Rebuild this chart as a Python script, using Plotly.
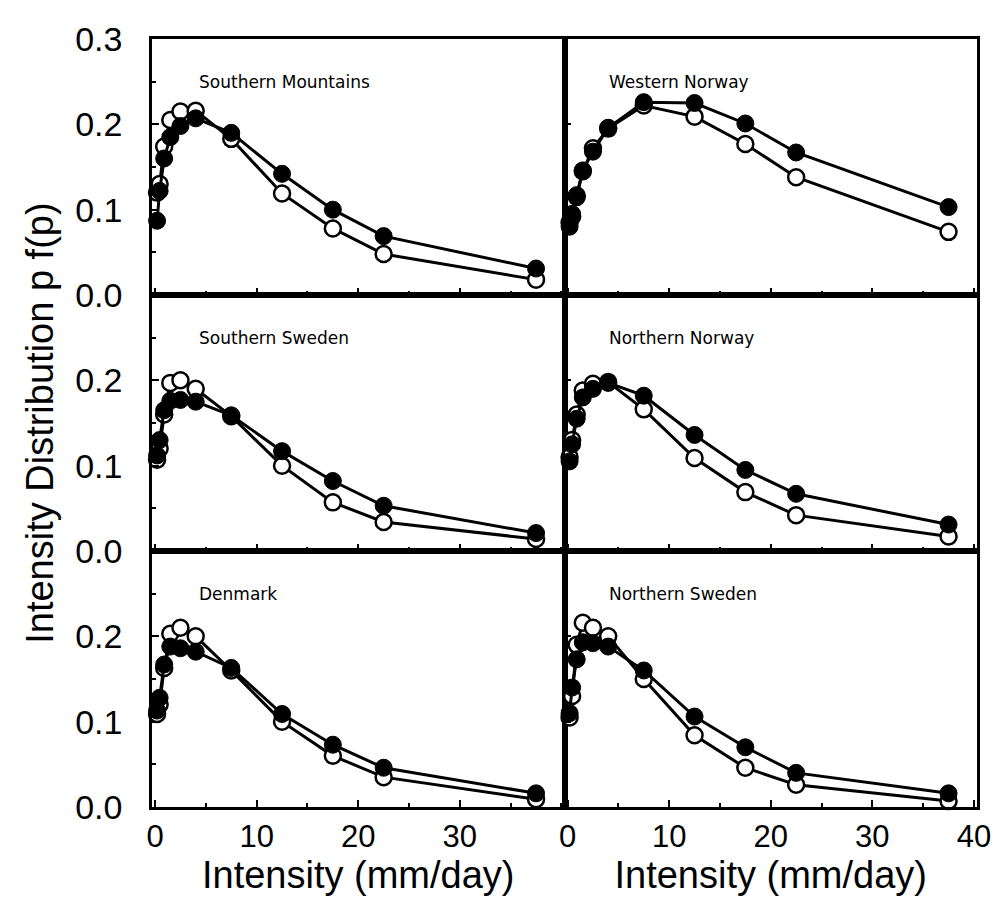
import plotly.graph_objects as go
from plotly.subplots import make_subplots

# Intensity bins (mm/day)
intensity = [0.2, 0.45, 0.9, 1.5, 2.5, 4.0, 7.5, 12.5, 17.5, 22.5, 37.5]

regions = ["Southern Mountains", "Western Norway", "Southern Sweden",
           "Northern Norway", "Denmark", "Northern Sweden"]

# filled circles
sm_filled = [0.087, 0.122, 0.160, 0.185, 0.198, 0.207, 0.190, 0.142, 0.100, 0.069, 0.031]
wn_filled = [0.080, 0.095, 0.117, 0.146, 0.168, 0.196, 0.226, 0.225, 0.201, 0.167, 0.103]
ss_filled = [0.112, 0.130, 0.165, 0.176, 0.177, 0.175, 0.159, 0.117, 0.082, 0.053, 0.021]
nn_filled = [0.105, 0.125, 0.155, 0.180, 0.190, 0.197, 0.182, 0.136, 0.095, 0.067, 0.031]
dk_filled = [0.113, 0.128, 0.167, 0.188, 0.186, 0.182, 0.163, 0.109, 0.073, 0.046, 0.016]
ns_filled = [0.110, 0.140, 0.173, 0.193, 0.192, 0.188, 0.160, 0.106, 0.070, 0.040, 0.016]

# open circles
sm_open = [0.120, 0.130, 0.174, 0.205, 0.215, 0.216, 0.183, 0.119, 0.078, 0.048, 0.018]
wn_open = [0.085, 0.092, 0.115, 0.145, 0.172, 0.195, 0.222, 0.209, 0.177, 0.138, 0.074]
ss_open = [0.107, 0.120, 0.160, 0.197, 0.200, 0.190, 0.158, 0.100, 0.057, 0.034, 0.014]
nn_open = [0.110, 0.130, 0.160, 0.188, 0.196, 0.198, 0.166, 0.109, 0.069, 0.042, 0.017]
dk_open = [0.109, 0.120, 0.163, 0.203, 0.210, 0.200, 0.160, 0.100, 0.060, 0.035, 0.009]
ns_open = [0.105, 0.130, 0.190, 0.216, 0.210, 0.200, 0.150, 0.084, 0.046, 0.026, 0.007]

filled = [sm_filled, wn_filled, ss_filled, nn_filled, dk_filled, ns_filled]
opened = [sm_open, wn_open, ss_open, nn_open, dk_open, ns_open]

x_ticks_left = [0, 10, 20, 30]
x_ticks_right = [0, 10, 20, 30, 40]
y_ticks_top = [0.0, 0.1, 0.2, 0.3]
y_ticks_low = [0.0, 0.1, 0.2]

fig = make_subplots(rows=3, cols=2, horizontal_spacing=0, vertical_spacing=0)

for i, name in enumerate(regions):
    r = i // 2 + 1
    c = i % 2 + 1
    fig.add_trace(go.Scatter(
        x=intensity, y=opened[i], mode="lines+markers", cliponaxis=False,
        line=dict(color="black", width=3),
        marker=dict(symbol="circle", size=16, color="white",
                    line=dict(color="black", width=2.5)),
        showlegend=False), row=r, col=c)
    fig.add_trace(go.Scatter(
        x=intensity, y=filled[i], mode="lines+markers", cliponaxis=False,
        line=dict(color="black", width=3),
        marker=dict(symbol="circle", size=17, color="black",
                    line=dict(color="black", width=1)),
        showlegend=False), row=r, col=c)
    xref = "x" if i == 0 else f"x{i+1}"
    yref = "y" if i == 0 else f"y{i+1}"
    fig.add_annotation(x=4.1 if c == 1 else 3.9, y=0.25, xref=xref, yref=yref,
                       text=name, showarrow=False, xanchor="left", yanchor="middle",
                       font=dict(family="DejaVu Sans", size=17, color="black"))

axis_common = dict(showline=True, linewidth=2.5, linecolor="black", mirror=True,
                   showgrid=False, zeroline=False, ticks="inside",
                   tickcolor="black", tickwidth=1.5, ticklabeloverflow="allow")

for r in range(1, 4):
    for c in range(1, 3):
        xt = x_ticks_left if c == 1 else x_ticks_right
        fig.update_xaxes(
            range=[-0.3, 40.3], tickvals=xt, ticklen=7,
            minor=dict(dtick=5, tick0=0, ticks="inside", ticklen=4,
                       tickcolor="black", tickwidth=1.5),
            showticklabels=(r == 3),
            tickfont=dict(family="Liberation Sans, Arial", size=31, color="black"),
            row=r, col=c, **axis_common)
        yt = y_ticks_top if r == 1 else y_ticks_low
        fig.update_yaxes(
            range=[0, 0.3], tickvals=yt, tickformat=".1f", ticklen=7,
            minor=dict(dtick=0.05, tick0=0, ticks="inside", ticklen=4,
                       tickcolor="black", tickwidth=1.5),
            showticklabels=(c == 1),
            tickfont=dict(family="Liberation Sans, Arial", size=34, color="black"),
            ticklabelstandoff=20,
            row=r, col=c, **axis_common)

title_font = dict(family="Liberation Sans, Arial", size=38, color="black")
fig.update_xaxes(title=dict(text="Intensity (mm/day)", font=title_font, standoff=8), row=3, col=1)
fig.update_xaxes(title=dict(text="Intensity (mm/day)", font=title_font, standoff=8), row=3, col=2)

fig.add_annotation(text="Intensity Distribution p f(p)", xref="paper", yref="paper",
                   x=-0.136, y=0.5, textangle=-90, showarrow=False,
                   xanchor="center", yanchor="middle", font=title_font)

fig.update_layout(width=1001, height=905,
                  margin=dict(l=144, r=32, t=18, b=106),
                  paper_bgcolor="white", plot_bgcolor="white")

fig.write_html("out.html")
